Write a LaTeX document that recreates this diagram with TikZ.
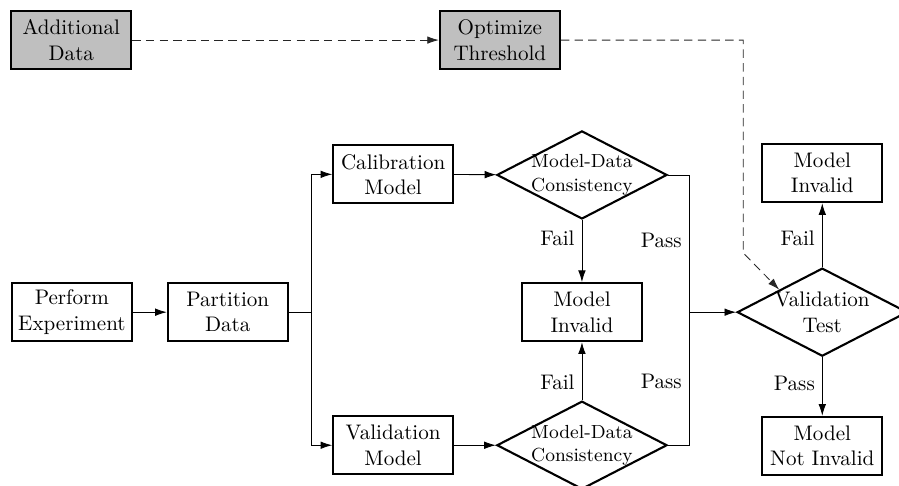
\documentclass[tikz,border=0pt]{standalone}
\usepackage{amsmath}
\usetikzlibrary{shapes.geometric, arrows.meta}

\begin{document}
\begin{tikzpicture}[
        block/.style={draw, line width=1pt, align=center, inner sep=2pt, minimum width=2cm, minimum height=0.97cm},
        shaded/.style={block, fill=gray!50},
        decide/.style={draw, line width=1pt, diamond, aspect=2, inner sep=-2pt, minimum width=2.84cm, minimum height=1.47cm, align=center},
        arr/.style={-{Latex[length=5.5pt, width=3.6pt]}},
        dashline/.style={dash pattern=on 4pt off 2.5pt, black!85, arr},
    ]
            \useasboundingbox (0, 0) rectangle (15, 8.109);

            \node[shaded] (adddata) at (1.19, 7.44) {Additional\\Data};
            \node[shaded] (optthr) at (8.34, 7.44) {Optimize\\Threshold};

            \node[block] (perform) at (1.2, 2.9) {Perform\\Experiment};
            \node[block] (partition) at (3.8, 2.9) {Partition\\Data};
            \node[block] (calmodel) at (6.56, 5.2) {Calibration\\Model};
            \node[block] (valmodel) at (6.56, 0.68) {Validation\\Model};
            \node[decide, font=\small] (calcons) at (9.71, 5.19) {Model-Data\\Consistency};
            \node[decide, font=\small] (valcons) at (9.71, 0.68) {Model-Data\\Consistency};
            \node[block] (midinvalid) at (9.71, 2.9) {Model\\Invalid};
            \node[decide] (valtest) at (13.72, 2.9) {Validation\\Test};
            \node[block] (topinvalid) at (13.72, 5.22) {Model\\Invalid};
            \node[block] (notinvalid) at (13.72, 0.67) {Model\\Not Invalid};

            \coordinate (split) at (5.19, 2.9);
            \coordinate (merge) at (11.5, 2.9);
            \coordinate (bend) at (12.4, 3.89);

            \draw[arr] (perform) -- (partition);
            \draw (partition) -- (split);
            \draw[arr] (split) |- (calmodel.west);
            \draw[arr] (split) |- (valmodel.west);
            \draw[arr] (calmodel) -- (calcons);
            \draw[arr] (valmodel) -- (valcons);
            \draw[arr] (calcons.south) -- node[pos=0.3, left] {Fail} (midinvalid.north);
            \draw[arr] (valcons.north) -- node[pos=0.3, left] {Fail} (midinvalid.south);
            \draw (calcons.east) -| node[pos=0.74, left] {Pass} (merge);
            \draw (valcons.east) -| node[pos=0.74, left] {Pass} (merge);
            \draw[arr] (merge) -- (valtest.west);
            \draw[arr] (valtest.north) -- node[pos=0.45, left] {Fail} (topinvalid.south);
            \draw[arr] (valtest.south) -- node[pos=0.45, left] {Pass} (notinvalid.north);

            \draw[dashline] (adddata) -- (optthr);
            \draw[dashline] (optthr.east) -| (bend) -- (valtest.north west);
        \end{tikzpicture}
\end{document}
